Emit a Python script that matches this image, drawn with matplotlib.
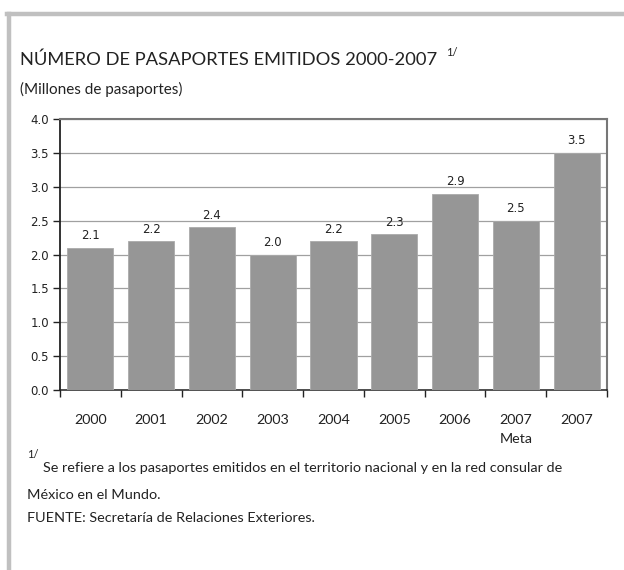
import numpy as np
import matplotlib
matplotlib.use("Agg")
import matplotlib.pyplot as plt
from matplotlib.lines import Line2D

# data
years = ["2000", "2001", "2002", "2003", "2004", "2005", "2006", "2007\nMeta", "2007"]
pasaportes = [2.1, 2.2, 2.4, 2.0, 2.2, 2.3, 2.9, 2.5, 3.5]
yticks = [0.0, 0.5, 1.0, 1.5, 2.0, 2.5, 3.0, 3.5, 4.0]

title = "NÚMERO DE PASAPORTES EMITIDOS 2000-2007"
subtitle = "(Millones de pasaportes)"
nota = "Se refiere a los pasaportes emitidos en el territorio nacional y en la red consular de"
nota2 = "México en el Mundo."
fuente = "FUENTE: Secretaría de Relaciones Exteriores."

W, H = 624, 570
fig = plt.figure(figsize=(W / 100, H / 100), dpi=100)
fig.patch.set_facecolor("white")

# gray frame on top and left
fig.add_artist(Line2D([7 / W, 1], [1 - 14 / H, 1 - 14 / H], color="#c0c0c0", lw=3.2))
fig.add_artist(Line2D([9 / W, 9 / W], [0, 1 - 14 / H], color="#c0c0c0", lw=3.2))

ax = fig.add_axes([60 / W, 1 - 390 / H, 547 / W, 271 / H])
x = np.arange(len(years))
ax.bar(x, pasaportes, width=0.76, color="#969696", edgecolor="#aaaaaa", linewidth=0.6, zorder=3)

ax.set_xlim(-0.5, len(years) - 0.5)
ax.set_ylim(0, 4.0)
ax.set_yticks(yticks)
ax.set_yticklabels([f"{v:.1f}" for v in yticks], fontsize=8.5, color="#222222")
ax.yaxis.grid(True, color="#a0a0a0", lw=0.9, zorder=0)
ax.tick_params(axis="y", direction="out", length=5, width=1, color="#222222", pad=3)

ax.set_xticks(x)
ax.set_xticklabels(years, fontsize=10.3, family="Lato", color="#222222")
for lab in ax.get_xticklabels():
    lab.set_linespacing(1.75)
ax.tick_params(axis="x", which="major", length=0, pad=17)
ax.set_xticks(np.arange(-0.5, len(years)), minor=True)
ax.tick_params(axis="x", which="minor", direction="out", length=5, width=1, color="#222222")

ax.spines["left"].set_color("#222222")
ax.spines["left"].set_linewidth(1.3)
ax.spines["bottom"].set_color("#222222")
ax.spines["bottom"].set_linewidth(1.1)
ax.spines["top"].set_color("#777777")
ax.spines["top"].set_linewidth(1.5)
ax.spines["right"].set_color("#777777")
ax.spines["right"].set_linewidth(1.5)

for xi, v in zip(x, pasaportes):
    ax.text(xi, v + 0.08, f"{v:.1f}", ha="center", va="bottom", fontsize=8.5, color="#222222")

fig.text(20 / W, 1 - 60 / H, title, fontsize=13.2, family="Lato", va="center", ha="left", color="#222222")
fig.text(446 / W, 1 - 52 / H, "1/", fontsize=8, family="Lato", va="center", ha="left", color="#222222")
fig.text(20 / W, 1 - 89 / H, subtitle, fontsize=11, family="Lato", va="center", ha="left", color="#222222")

fig.text(27 / W, 1 - 455 / H, "1/", fontsize=8, family="Lato", va="center", ha="left", color="#222222")
fig.text(43 / W, 1 - 468 / H, nota, fontsize=10.4, family="Lato", va="center", ha="left", color="#222222")
fig.text(27 / W, 1 - 495 / H, nota2, fontsize=10.4, family="Lato", va="center", ha="left", color="#222222")
fig.text(27 / W, 1 - 518 / H, fuente, fontsize=10.4, family="Lato", va="center", ha="left", color="#222222")

fig.savefig("out.png", dpi=100)
